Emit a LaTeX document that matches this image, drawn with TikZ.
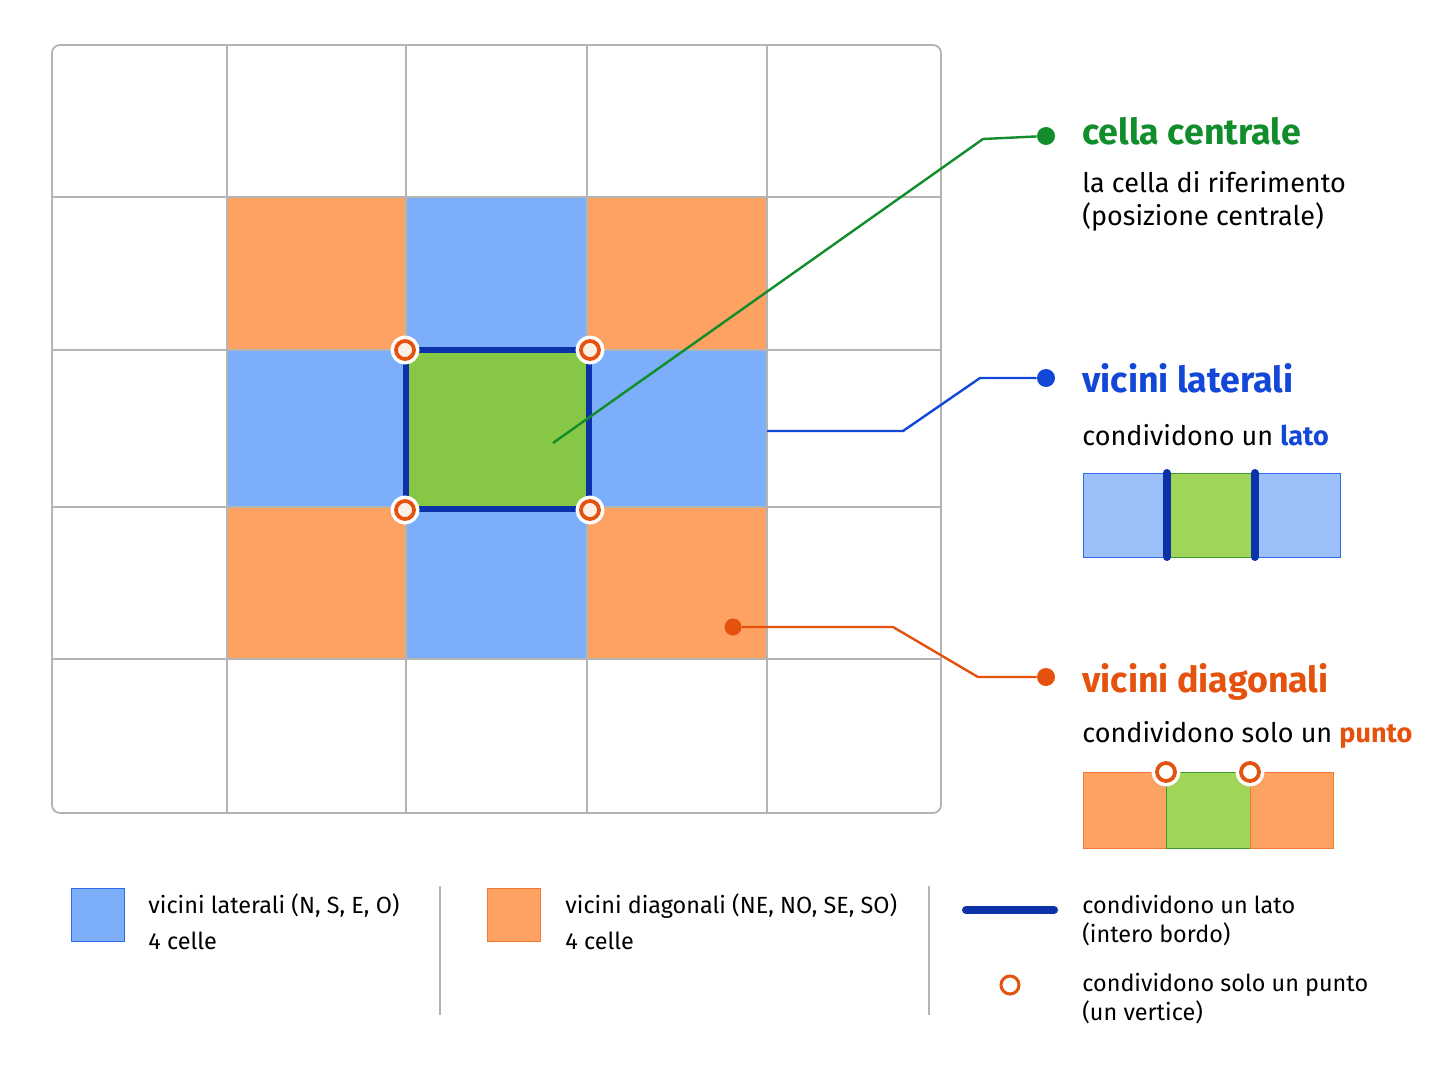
\documentclass[tikz,border=0pt]{standalone}
\usepackage{fontspec}
\setmainfont{Fira Sans}
\usepackage{xcolor}
\usetikzlibrary{positioning}

\definecolor{gridgray}{HTML}{B4B4B4}
\definecolor{latblue}{HTML}{7CAEF9}
\definecolor{latpale}{HTML}{9CC0FA}
\definecolor{latedge}{HTML}{2F6BEA}
\definecolor{diagorange}{HTML}{FDA263}
\definecolor{diagedge}{HTML}{F07A34}
\definecolor{midgreen}{HTML}{86C846}
\definecolor{midpale}{HTML}{A0D558}
\definecolor{midedge}{HTML}{3E9A2A}
\definecolor{sideblue}{HTML}{0B32A8}
\definecolor{ptorange}{HTML}{E4520E}
\definecolor{linkgreen}{HTML}{118D2C}
\definecolor{titleblue}{HTML}{1247D8}
\definecolor{cream}{HTML}{FCEFE6}

\begin{document}
\begin{tikzpicture}[x=0.5pt, y=-0.5pt,
  gridline/.style={draw=gridgray, line width=0.9pt},
  sideline/.style={draw=sideblue, line width=3.3pt},
  vertex/.style={circle, draw=ptorange, fill=white, line width=1.9pt,
    minimum size=9pt, inner sep=0pt,
    preaction={draw=white, line width=5.4pt}},
  dot/.style={circle, inner sep=0pt, minimum size=9pt},
  link/.style={line width=1.2pt},
  title/.style={anchor=base west, inner sep=0pt, font=\fontsize{17.9}{21}\selectfont\bfseries},
  body/.style={anchor=base west, inner sep=0pt, font=\fontsize{13.5}{16}\selectfont},
  legtext/.style={anchor=base west, inner sep=0pt, font=\fontsize{11.7}{14}\selectfont}
]
\useasboundingbox[fill=white] (0,0) rectangle (1448,1086);

% grid cells
\fill[diagorange] (227,197) rectangle (406,350);
\fill[diagorange] (587,197) rectangle (767,350);
\fill[diagorange] (227,507) rectangle (406,659);
\fill[diagorange] (587,507) rectangle (767,659);
\fill[latblue] (406,197) rectangle (587,350);
\fill[latblue] (227,350) rectangle (406,507);
\fill[latblue] (587,350) rectangle (767,507);
\fill[latblue] (406,507) rectangle (587,659);
\fill[midgreen] (406,350) rectangle (587,507);
\foreach \x in {227,406,587,767}
  \draw[gridline] (\x,45) -- (\x,813);
\foreach \y in {197,350,507,659}
  \draw[gridline] (52,\y) -- (941,\y);
\draw[gridline, rounded corners=4pt] (52,45) rectangle (941,813);

% shared sides and corners of the central cell
\draw[sideline] (406,350) rectangle (589,509);
\node[vertex, fill=cream] (nw) at (405,350) {};
\node[vertex, fill=cream] (ne) at (590,350) {};
\node[vertex, fill=cream] (sw) at (405,510) {};
\node[vertex, fill=cream] (se) at (590,510) {};

% callouts
\coordinate (csrc) at (553,443);
\coordinate (lsrc) at (767,431);
\node[dot, fill=ptorange, minimum size=8.5pt] (dsrc) at (733,627) {};
\node[dot, fill=linkgreen] (cdot) at (1046,136) {};
\node[dot, fill=titleblue] (ldot) at (1046,378) {};
\node[dot, fill=ptorange] (ddot) at (1046,677) {};
\draw[link, linkgreen] (csrc) -- (983,139) -- (cdot);
\draw[link, titleblue] (lsrc) -- (903,431) -- (980,378) -- (ldot);
\draw[link, ptorange] (dsrc) -- (893,627) -- (978,677) -- (ddot);

% cella centrale
\node[title, text=linkgreen] (ctitle) at (1082,145) {cella centrale};
\node[body] (cline1) at (1082,192) {la cella di riferimento};
\node[body] (cline2) at (1082,226) {(posizione centrale)};

% vicini laterali
\node[title, text=titleblue] (ltitle) at (1082,393) {vicini laterali};
\node[body] (lline) at (1082,445) {condividono un \textcolor{titleblue}{\bfseries lato}};
\draw[draw=latedge, fill=latpale] (1083,473) rectangle (1167,557);
\draw[draw=midedge, fill=midpale] (1167,473) rectangle (1255,557);
\draw[draw=latedge, fill=latpale] (1255,473) rectangle (1340,557);
\draw[sideline, line width=4pt, line cap=round] (1167,473) -- (1167,557);
\draw[sideline, line width=4pt, line cap=round] (1255,473) -- (1255,557);

% vicini diagonali
\node[title, text=ptorange] (dtitle) at (1082,692) {vicini diagonali};
\node[body] (dline) at (1082,742) {condividono solo un \textcolor{ptorange}{\bfseries punto}};
\draw[draw=diagedge, fill=diagorange] (1083,772) rectangle (1166,848);
\draw[draw=midedge, fill=midpale] (1166,772) rectangle (1250,848);
\draw[draw=diagedge, fill=diagorange] (1250,772) rectangle (1333,848);
\node[vertex] (pl) at (1166,772) {};
\node[vertex] (pr) at (1250,772) {};

% legend
\draw[draw=latedge, fill=latblue] (71,888) rectangle (124,941);
\node[legtext] (lat1) at (148,913) {vicini laterali (N, S, E, O)};
\node[legtext] (lat2) at (148,949) {4 celle};
\draw[gridline, line width=1pt] (440,886) -- (440,1015);
\draw[draw=diagedge, fill=diagorange] (487,888) rectangle (540,941);
\node[legtext] (diag1) at (565,913) {vicini diagonali (NE, NO, SE, SO)};
\node[legtext] (diag2) at (565,949) {4 celle};
\draw[gridline, line width=1pt] (929,886) -- (929,1015);
\draw[sideline, line width=4pt, line cap=round] (966,910) -- (1054,910);
\node[legtext] (side1) at (1082,913) {condividono un lato};
\node[legtext] (side2) at (1082,942) {(intero bordo)};
\node[vertex, preaction={}, line width=1.5pt, minimum size=9pt] (pt) at (1010,985) {};
\node[legtext] (pt1) at (1082,991) {condividono solo un punto};
\node[legtext] (pt2) at (1082,1020) {(un vertice)};
\end{tikzpicture}
\end{document}
